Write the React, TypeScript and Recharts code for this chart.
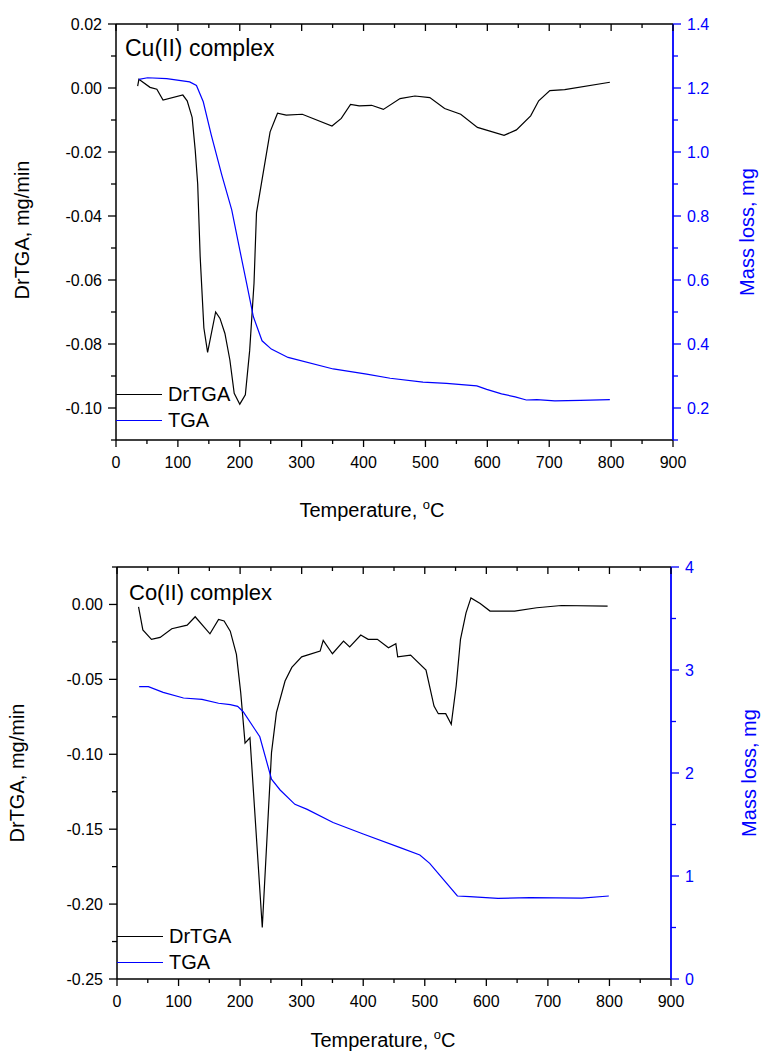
import React from "react"
import { LineChart, Line, XAxis, YAxis, Legend } from "recharts"

// Cu(II) complex - DrTGA (mg/min) vs temperature
const cuDrTemp = [35, 37, 55, 66, 76, 108, 115, 123, 128, 132, 136, 142, 148, 161, 168, 176, 184, 191, 200, 209, 216, 223, 227, 235, 249, 261, 275, 301, 349, 364, 379, 393, 413, 432, 459, 483, 507, 531, 557, 584, 627, 647, 670, 683, 701, 725, 798]
const cuDrtga = [0.0006, 0.0027, 0.0002, -0.0004, -0.0038, -0.0022, -0.004, -0.0092, -0.0194, -0.03, -0.0527, -0.075, -0.0826, -0.07, -0.072, -0.0767, -0.085, -0.0954, -0.0988, -0.0959, -0.082, -0.061, -0.039, -0.0298, -0.0137, -0.0079, -0.0085, -0.0082, -0.0119, -0.0095, -0.0051, -0.0056, -0.0054, -0.0067, -0.0033, -0.0025, -0.003, -0.0064, -0.0082, -0.0123, -0.0148, -0.0131, -0.0087, -0.004, -0.0008, -0.0005, 0.0018]

// Cu(II) complex - TGA (mg)
const cuTgaTemp = [37, 51, 82, 119, 130, 141, 154, 171, 187, 200, 211, 222, 236, 251, 278, 351, 405, 443, 496, 534, 583, 599, 623, 645, 663, 680, 709, 750, 798]
const cuTga = [1.227, 1.232, 1.229, 1.219, 1.208, 1.157, 1.053, 0.928, 0.819, 0.694, 0.59, 0.485, 0.41, 0.384, 0.358, 0.322, 0.306, 0.293, 0.281, 0.277, 0.269, 0.258, 0.244, 0.235, 0.225, 0.226, 0.222, 0.224, 0.226]

// Co(II) complex - DrTGA
const coDrTemp = [35, 42, 56, 70, 89, 114, 127, 151, 165, 174, 184, 194, 201, 208, 216, 236, 251, 259, 273, 284, 300, 330, 335, 350, 368, 378, 396, 408, 423, 441, 453, 456, 477, 502, 515, 522, 534, 543, 551, 558, 567, 575, 590, 606, 646, 682, 722, 797]
const coDrtga = [-0.0016, -0.017, -0.0233, -0.022, -0.0162, -0.0138, -0.0082, -0.0196, -0.01, -0.011, -0.0178, -0.0333, -0.0589, -0.0925, -0.089, -0.2156, -0.0989, -0.0722, -0.0511, -0.042, -0.035, -0.0311, -0.024, -0.0329, -0.0244, -0.0284, -0.0204, -0.0233, -0.0233, -0.0289, -0.0262, -0.0349, -0.0338, -0.0438, -0.0678, -0.0729, -0.0729, -0.08, -0.0544, -0.0233, -0.0056, 0.0044, 0.0007, -0.0044, -0.0044, -0.0022, -0.0007, -0.0011]

// Co(II) complex - TGA
const coTgaTemp = [36, 51, 75, 108, 138, 165, 184, 196, 205, 232, 251, 265, 289, 309, 351, 400, 460, 492, 508, 553, 573, 619, 671, 755, 799]
const coTga = [2.838, 2.838, 2.783, 2.728, 2.715, 2.677, 2.663, 2.647, 2.595, 2.352, 1.94, 1.835, 1.696, 1.647, 1.52, 1.408, 1.275, 1.204, 1.123, 0.806, 0.8, 0.783, 0.79, 0.786, 0.806]

// ticks
const tempMajor = [0, 100, 200, 300, 400, 500, 600, 700, 800, 900]
const tempMinor = [50, 150, 250, 350, 450, 550, 650, 750, 850]
const cuLeftMajor = [-0.1, -0.08, -0.06, -0.04, -0.02, 0, 0.02]
const cuLeftMinor = [-0.11, -0.09, -0.07, -0.05, -0.03, -0.01, 0.01]
const cuRightMajor = [0.2, 0.4, 0.6, 0.8, 1.0, 1.2, 1.4]
const cuRightMinor = [0.1, 0.3, 0.5, 0.7, 0.9, 1.1, 1.3]
const coLeftMajor = [-0.25, -0.2, -0.15, -0.1, -0.05, 0]
const coLeftMinor = [-0.225, -0.175, -0.125, -0.075, -0.025, 0.025]
const coRightMajor = [0, 1, 2, 3, 4]
const coRightMinor = [0.5, 1.5, 2.5, 3.5]

const FONT = "'Liberation Sans', Arial, Helvetica, sans-serif"
const BLUE = "#0000ff"

const toPts = (xs: number[], ys: number[]) => xs.map((t, i) => ({ t, v: ys[i] }))
const has = (arr: number[], v: number) => arr.some((m) => Math.abs(m - v) < 1e-9)

function makeTick(side: "bottom" | "top" | "left" | "right", majors: number[], fmt: (v: number) => string, color: string) {
  return (props: any) => {
    const { x, y, payload } = props
    const v = payload.value
    const major = has(majors, v)
    const len = major ? 7 : 4
    if (side === "bottom") {
      return (
        <g>
          <line x1={x} y1={y} x2={x} y2={y + len} stroke={color} strokeWidth={1.3} />
          {major && (
            <text x={x} y={y + 22} dy="0.35em" textAnchor="middle" fontSize={16} fontFamily={FONT} fill={color}>
              {fmt(v)}
            </text>
          )}
        </g>
      )
    }
    if (side === "top") {
      return <line x1={x} y1={y} x2={x} y2={y + len} stroke={color} strokeWidth={1.3} />
    }
    if (side === "left") {
      return (
        <g>
          <line x1={x} y1={y} x2={x - len - 1} y2={y} stroke={color} strokeWidth={1.3} />
          {major && (
            <text x={x - 14} y={y} dy="0.35em" textAnchor="end" fontSize={16} fontFamily={FONT} fill={color}>
              {fmt(v)}
            </text>
          )}
        </g>
      )
    }
    return (
      <g>
        <line x1={x} y1={y} x2={x + len + 1} y2={y} stroke={color} strokeWidth={1.3} />
        {major && (
          <text x={x + 14} y={y} dy="0.35em" textAnchor="start" fontSize={16} fontFamily={FONT} fill={color}>
            {fmt(v)}
          </text>
        )}
      </g>
    )
  }
}

function LegendBox(props: any) {
  const { payload } = props
  return (
    <div style={{ fontFamily: FONT, fontSize: 20 }}>
      {payload.map((p: any) => (
        <div key={p.value} style={{ display: "flex", alignItems: "center", height: 26 }}>
          <div style={{ width: 46, height: 0, borderTop: `1.3px solid ${p.color}`, marginRight: 6 }} />
          <span style={{ lineHeight: "20px" }}>{p.value}</span>
        </div>
      ))}
    </div>
  )
}

interface PanelProps {
  top: number
  height: number
  plotTop: number
  plotBottom: number
  plotLeft: number
  plotRight: number
  dr: { t: number; v: number }[]
  tga: { t: number; v: number }[]
  leftDomain: [number, number]
  leftMajor: number[]
  leftMinor: number[]
  leftFmt: (v: number) => string
  rightDomain: [number, number]
  rightMajor: number[]
  rightMinor: number[]
  rightFmt: (v: number) => string
  legendTop: number
}

function Panel(p: PanelProps) {
  const W = 761
  const allTemp = [...tempMajor, ...tempMinor].sort((a, b) => a - b)
  return (
    <div style={{ position: "absolute", left: 0, top: p.top }}>
      <LineChart width={W} height={p.height} margin={{ top: 0, right: 0, bottom: 0, left: 0 }}>
        <XAxis
          xAxisId="bottom"
          dataKey="t"
          type="number"
          domain={[0, 900]}
          ticks={allTemp}
          height={p.height - p.plotBottom}
          tickSize={0}
          tickMargin={0}
          tickLine={false}
          axisLine={{ stroke: "#000", strokeWidth: 1.5 }}
          tick={makeTick("bottom", tempMajor, (v) => String(v), "#000")}
          interval={0}
          allowDataOverflow
        />
        <XAxis
          xAxisId="top"
          orientation="top"
          dataKey="t"
          type="number"
          domain={[0, 900]}
          ticks={allTemp}
          height={p.plotTop}
          tickSize={0}
          tickMargin={0}
          tickLine={false}
          axisLine={{ stroke: "#000", strokeWidth: 1.5 }}
          tick={makeTick("top", tempMajor, (v) => String(v), "#000")}
          interval={0}
          allowDataOverflow
        />
        <YAxis
          yAxisId="left"
          type="number"
          domain={p.leftDomain}
          ticks={[...p.leftMajor, ...p.leftMinor].sort((a, b) => a - b)}
          width={p.plotLeft}
          tickSize={0}
          tickMargin={0}
          tickLine={false}
          axisLine={{ stroke: "#000", strokeWidth: 1.5 }}
          tick={makeTick("left", p.leftMajor, p.leftFmt, "#000")}
          interval={0}
          allowDataOverflow
        />
        <YAxis
          yAxisId="right"
          orientation="right"
          type="number"
          domain={p.rightDomain}
          ticks={[...p.rightMajor, ...p.rightMinor].sort((a, b) => a - b)}
          width={W - p.plotRight}
          tickSize={0}
          tickMargin={0}
          tickLine={false}
          axisLine={{ stroke: BLUE, strokeWidth: 1.8 }}
          tick={makeTick("right", p.rightMajor, p.rightFmt, BLUE)}
          interval={0}
          allowDataOverflow
        />
        <Line
          xAxisId="bottom"
          yAxisId="left"
          data={p.dr}
          dataKey="v"
          name="DrTGA"
          type="linear"
          stroke="#000"
          strokeWidth={1.2}
          dot={false}
          isAnimationActive={false}
        />
        <Line
          xAxisId="bottom"
          yAxisId="right"
          data={p.tga}
          dataKey="v"
          name="TGA"
          type="linear"
          stroke={BLUE}
          strokeWidth={1.2}
          dot={false}
          isAnimationActive={false}
        />
        <Legend
          layout="vertical"
          align="center"
          verticalAlign="middle"
          content={LegendBox}
          wrapperStyle={{ left: p.plotLeft, top: p.legendTop, width: 140, height: 52 }}
        />
      </LineChart>
    </div>
  )
}

const titleStyle: React.CSSProperties = {
  position: "absolute",
  fontFamily: FONT,
  fontSize: 20,
  whiteSpace: "nowrap",
  lineHeight: "20px",
}

function Rotated({ cx, cy, color, children }: { cx: number; cy: number; color: string; children: React.ReactNode }) {
  return (
    <div
      style={{
        ...titleStyle,
        left: cx,
        top: cy,
        color,
        transform: "translate(-50%, -50%) rotate(-90deg)",
      }}
    >
      {children}
    </div>
  )
}

function TempTitle({ cx, cy }: { cx: number; cy: number }) {
  return (
    <div style={{ ...titleStyle, left: cx, top: cy, transform: "translate(-50%, -50%)" }}>
      Temperature, <span style={{ fontSize: 13, position: "relative", top: -8 }}>o</span>C
    </div>
  )
}

export default function App() {
  return (
    <div style={{ position: "absolute", left: 0, top: 0, width: 761, height: 1051, background: "#fff", overflow: "hidden" }}>
      <Panel
        top={0}
        height={525}
        plotTop={24}
        plotBottom={440}
        plotLeft={116}
        plotRight={673}
        dr={toPts(cuDrTemp, cuDrtga)}
        tga={toPts(cuTgaTemp, cuTga)}
        leftDomain={[-0.11, 0.02]}
        leftMajor={cuLeftMajor}
        leftMinor={cuLeftMinor}
        leftFmt={(v) => v.toFixed(2)}
        rightDomain={[0.1, 1.4]}
        rightMajor={cuRightMajor}
        rightMinor={cuRightMinor}
        rightFmt={(v) => v.toFixed(1)}
        legendTop={381}
      />
      <Panel
        top={525}
        height={526}
        plotTop={42}
        plotBottom={454}
        plotLeft={117}
        plotRight={671}
        dr={toPts(coDrTemp, coDrtga)}
        tga={toPts(coTgaTemp, coTga)}
        leftDomain={[-0.25, 0.025]}
        leftMajor={coLeftMajor}
        leftMinor={coLeftMinor}
        leftFmt={(v) => v.toFixed(2)}
        rightDomain={[0, 4]}
        rightMajor={coRightMajor}
        rightMinor={coRightMinor}
        rightFmt={(v) => String(v)}
        legendTop={398}
      />
      <div style={{ position: "absolute", left: 125, top: 37, fontFamily: FONT, fontSize: 23, lineHeight: "23px", whiteSpace: "nowrap" }}>
        Cu(II) complex
      </div>
      <div style={{ position: "absolute", left: 129, top: 582, fontFamily: FONT, fontSize: 22, lineHeight: "22px", whiteSpace: "nowrap" }}>
        Co(II) complex
      </div>
      <Rotated cx={22} cy={230} color="#000">DrTGA, mg/min</Rotated>
      <Rotated cx={747} cy={232} color={BLUE}>Mass loss, mg</Rotated>
      <Rotated cx={17} cy={773} color="#000">DrTGA, mg/min</Rotated>
      <Rotated cx={749} cy={773} color={BLUE}>Mass loss, mg</Rotated>
      <TempTitle cx={372} cy={511} />
      <TempTitle cx={383} cy={1041} />
    </div>
  )
}
